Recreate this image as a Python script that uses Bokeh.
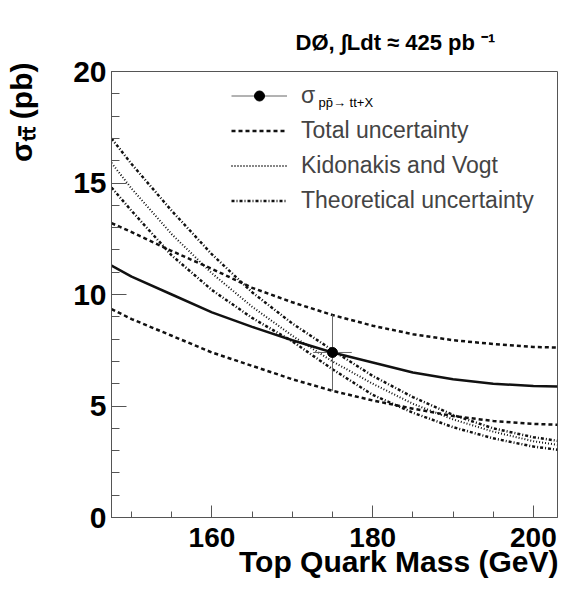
from bokeh.plotting import figure
from bokeh.models import Range1d, FixedTicker, Label, Legend, LegendItem, Title
from bokeh.embed import file_html
from bokeh.resources import INLINE

# ---- data ----
mass = [147.5, 150, 155, 160, 165, 170, 175, 180, 185, 190, 195, 200, 203.0]
sigma_meas = [11.3, 10.8, 10.0, 9.2, 8.55, 7.95, 7.4, 6.95, 6.5, 6.2, 6.0, 5.9, 5.88]
total_up = [13.2, 12.8, 11.95, 11.15, 10.3, 9.65, 9.08, 8.6, 8.22, 7.95, 7.78, 7.65, 7.62]
total_down = [9.35, 8.9, 8.15, 7.4, 6.8, 6.2, 5.68, 5.25, 4.88, 4.55, 4.33, 4.2, 4.16]
kv_central = [15.9, 14.75, 12.7, 10.95, 9.45, 8.15, 7.0, 6.0, 5.1, 4.4, 3.85, 3.42, 3.26]
kv_up = [17.0, 15.85, 13.75, 11.8, 10.1, 8.7, 7.5, 6.35, 5.4, 4.6, 4.0, 3.6, 3.44]
kv_down = [14.8, 13.75, 11.75, 10.2, 8.95, 7.9, 6.65, 5.5, 4.7, 4.05, 3.55, 3.18, 3.04]

point_mass = [175.0]
point_sigma = [7.40]
point_sigma_hi = [9.09]
point_sigma_lo = [5.68]
point_mass_err = [2.4]

x_major = [160, 180, 200]
x_minor = [150, 155, 160, 165, 170, 175, 180, 185, 190, 195, 200]
y_major = [0, 5, 10, 15, 20]
y_minor = list(range(0, 21))

legend_labels = ["σ", "Total uncertainty", "Kidonakis and Vogt", "Theoretical uncertainty"]

FONT = "Liberation Sans"
INK = "#111111"
FRAME = "#555555"

p = figure(width=566, height=589, output_backend="svg", toolbar_location=None,
           x_range=Range1d(147.5, 203.0), y_range=Range1d(0, 20),
           min_border_left=111, min_border_right=9, min_border_top=71,
           min_border_bottom=72)
p.grid.visible = False
p.background_fill_color = "white"
p.border_fill_color = "white"
p.outline_line_color = FRAME
p.outline_line_width = 1

for ax in (p.xaxis[0], p.yaxis[0]):
    ax.axis_line_color = FRAME
    ax.major_tick_line_color = FRAME
    ax.minor_tick_line_color = FRAME
    ax.major_tick_out = 0
    ax.minor_tick_out = 0
    ax.major_label_text_font = FONT
    ax.major_label_text_font_style = "bold"
    ax.major_label_text_color = "black"

p.xaxis.ticker = FixedTicker(ticks=x_major, minor_ticks=x_minor)
p.xaxis.major_tick_in = 12
p.xaxis.minor_tick_in = 6
p.xaxis.major_label_standoff = 10
p.xaxis.major_label_text_font_size = "28px"
p.yaxis.ticker = FixedTicker(ticks=y_major, minor_ticks=y_minor)
p.yaxis.major_tick_in = 15
p.yaxis.minor_tick_in = 8
p.yaxis.major_label_standoff = 5
p.yaxis.major_label_text_font_size = "30px"

# curves
r_tot_up = p.line(mass, total_up, line_color=INK, line_width=2.5, line_dash="4 3")
p.line(mass, total_down, line_color=INK, line_width=2.5, line_dash="4 3")
r_th_up = p.line(mass, kv_up, line_color=INK, line_width=2.5, line_dash="3 2 1 2")
p.line(mass, kv_down, line_color=INK, line_width=2.5, line_dash="3 2 1 2")
r_kv = p.line(mass, kv_central, line_color=INK, line_width=2, line_dash="1 2")
p.line(mass, sigma_meas, line_color=INK, line_width=2.5)

# measured point with error bars
x0 = point_mass + [m - e for m, e in zip(point_mass, point_mass_err)]
x1 = point_mass + [m + e for m, e in zip(point_mass, point_mass_err)]
y0 = point_sigma_lo + point_sigma
y1 = point_sigma_hi + point_sigma
r_err = p.segment(x0=x0, y0=y0, x1=x1, y1=y1, line_color="#666666", line_width=1)
r_pt = p.scatter(point_mass, point_sigma, size=10, color="black")

legend = Legend(items=[
    LegendItem(label=legend_labels[0], renderers=[r_err, r_pt]),
    LegendItem(label=legend_labels[1], renderers=[r_tot_up]),
    LegendItem(label=legend_labels[2], renderers=[r_kv]),
    LegendItem(label=legend_labels[3], renderers=[r_th_up]),
], location=(120, 303))
legend.border_line_alpha = 0
legend.background_fill_alpha = 0
legend.label_text_font = FONT
legend.label_text_font_size = "23px"
legend.glyph_width = 56
legend.glyph_height = 25
legend.label_height = 25
legend.label_standoff = 14
legend.spacing = 8
legend.padding = 0
legend.margin = 0
p.add_layout(legend)

# legend subscript (inside the frame)
p.add_layout(Label(x=207, y=415, x_units="screen", y_units="screen",
                   text="pp\u0304\u2192 tt+X", text_font=FONT, text_font_size="13px",
                   text_color="black", text_baseline="alphabetic"))

# title above
p.title.text = "DØ, \u222bLdt \u2248 425 pb \u207b\u00b9"
p.title.text_font = FONT
p.title.text_font_size = "22px"
p.title.text_font_style = "bold"
p.title.text_color = "black"
p.title.align = "left"
p.title.offset = 184
p.title.vertical_align = "bottom"
p.title.standoff = 33

# y axis title (left); second, blank line pushes the text outward
p.add_layout(Title(text="σ\u209c\u209c\u0304 (pb)\n\u00a0", text_font=FONT, text_font_size="30px",
                   text_font_style="bold", text_color="black", align="right",
                   vertical_align="bottom", standoff=0, offset=-9), "left")

# x axis title (below)
p.add_layout(Title(text="Top Quark Mass (GeV)", text_font=FONT, text_font_size="30px",
                   text_font_style="bold", text_color="black", align="right",
                   vertical_align="top", standoff=-10, offset=-1), "below")

open("out.html", "w").write(file_html(p, INLINE))
